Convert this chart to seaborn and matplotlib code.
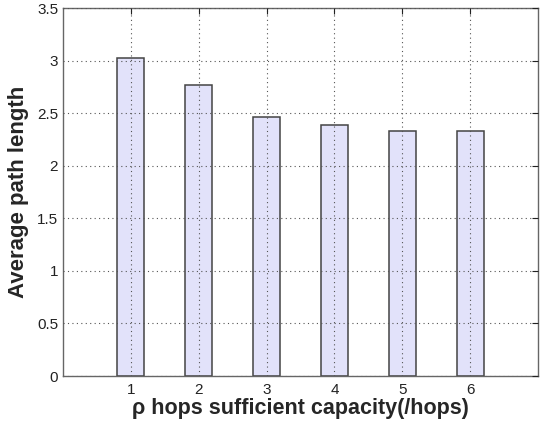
import matplotlib
matplotlib.use("Agg")
import matplotlib.pyplot as plt
import seaborn as sns
import pandas as pd

hops = [1, 2, 3, 4, 5, 6]
avg_path_length = [3.02, 2.77, 2.46, 2.39, 2.33, 2.33]
y_ticks = [0, 0.5, 1, 1.5, 2, 2.5, 3, 3.5]
y_tick_labels = ["0", "0.5", "1", "1.5", "2", "2.5", "3", "3.5"]

sns.set_style("white")
plt.rcParams['font.family'] = ['Liberation Sans', 'DejaVu Sans']

df = pd.DataFrame({"hops": hops, "len": avg_path_length})

fig = plt.figure(figsize=(5.4, 4.26), dpi=100)
ax = fig.add_axes([63/540, 1-376/426, (538-63)/540, (376-8)/426])

sns.barplot(data=df, x="hops", y="len", native_scale=True, width=0.4,
            color="#E2E2FA", edgecolor="#444444", linewidth=1.1,
            saturation=1, ax=ax, zorder=2)

ax.set_xlim(0, 7)
ax.set_ylim(0, 3.5)
ax.set_xticks(hops)
ax.set_xticklabels([str(h) for h in hops])
ax.set_yticks(y_ticks)
ax.set_yticklabels(y_tick_labels)
ax.grid(True, linestyle=(0, (1, 3)), color="#555555", linewidth=0.8, zorder=3)
ax.set_axisbelow(False)
for s in ax.spines.values():
    s.set_visible(True)
    s.set_color("#666666")
    s.set_linewidth(1.0)
ax.tick_params(direction="in", length=4, labelsize=11, colors="#222222",
               top=True, right=True)
ax.tick_params(axis="x", pad=5)
ax.set_xlabel("ρ hops sufficient capacity(/hops)", fontsize=15.5, fontweight="bold", labelpad=1)
ax.set_ylabel("Average path length", fontsize=16, fontweight="bold", labelpad=6)

fig.savefig("out.png", dpi=100)
